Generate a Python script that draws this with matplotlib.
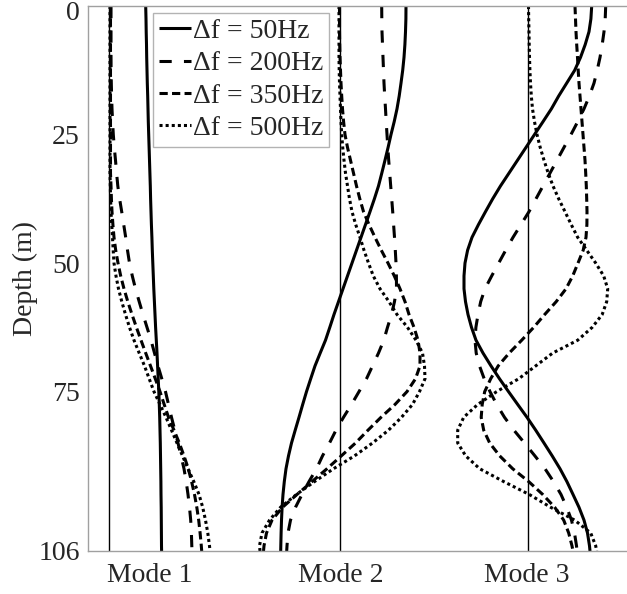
import matplotlib
matplotlib.use('Agg')
import matplotlib.pyplot as plt
import matplotlib.transforms as mtransforms

plt.rcParams['font.family'] = ['Liberation Serif', 'DejaVu Serif']

# ---------------- data ----------------
depth = [0, 2.5, 5, 7.5, 10, 12.5, 15, 17.5, 20, 22.5, 25, 27.5, 30, 32.5, 35, 37.5,
         40, 42.5, 45, 47.5, 50, 52.5, 55, 57.5, 60, 62.5, 65, 67.5, 70, 72.5, 75, 77.5,
         80, 82.5, 85, 87.5, 90, 92.5, 95, 97.5, 100, 102.5, 105, 106]

mode_labels = ['Mode 1', 'Mode 2', 'Mode 3']
series_labels = ['\u0394f = 50Hz', '\u0394f = 200Hz', '\u0394f = 350Hz', '\u0394f = 500Hz']
depth_ticks = [0, 25, 50, 75, 106]

# Mode 1 amplitudes (relative to the Mode 1 zero line)
mode1_50 = [0.367, 0.370, 0.372, 0.375, 0.377, 0.380, 0.383, 0.387, 0.390, 0.393, 0.397,
            0.401, 0.405, 0.409, 0.413, 0.416, 0.420, 0.424, 0.429, 0.433, 0.438, 0.443,
            0.448, 0.454, 0.460, 0.466, 0.473, 0.480, 0.486, 0.492, 0.498, 0.503, 0.507,
            0.510, 0.513, 0.515, 0.517, 0.519, 0.520, 0.522, 0.523, 0.524, 0.525, 0.526]
mode1_200 = [0.02, 0.02, 0.02, 0.02, 0.02, 0.021, 0.023, 0.026, 0.03, 0.036, 0.043,
             0.053, 0.065, 0.076, 0.088, 0.106, 0.127, 0.147, 0.167, 0.185, 0.205, 0.233,
             0.265, 0.302, 0.34, 0.38, 0.42, 0.455, 0.49, 0.528, 0.565, 0.595, 0.625,
             0.658, 0.69, 0.72, 0.75, 0.772, 0.79, 0.805, 0.817, 0.824, 0.828, 0.83]
mode1_350 = [0.015, 0.015, 0.015, 0.015, 0.015, 0.015, 0.015, 0.015, 0.015, 0.015, 0.015,
             0.015, 0.015, 0.015, 0.02, 0.024, 0.03, 0.039, 0.05, 0.067, 0.09, 0.117,
             0.15, 0.188, 0.23, 0.274, 0.32, 0.367, 0.415, 0.463, 0.51, 0.552, 0.595,
             0.65, 0.703, 0.75, 0.793, 0.826, 0.855, 0.878, 0.897, 0.911, 0.923, 0.927]
mode1_500 = [0.01, 0.01, 0.01, 0.01, 0.01, 0.01, 0.01, 0.01, 0.01, 0.01, 0.01,
             0.01, 0.01, 0.01, 0.013, 0.016, 0.02, 0.027, 0.035, 0.042, 0.05, 0.07,
             0.095, 0.128, 0.165, 0.205, 0.25, 0.302, 0.355, 0.402, 0.45, 0.51, 0.57,
             0.625, 0.68, 0.735, 0.79, 0.848, 0.90, 0.937, 0.965, 0.988, 1.005, 1.01]

# Mode 2 amplitudes
mode2_50 = [0.665, 0.664, 0.66, 0.654, 0.645, 0.632, 0.615, 0.597, 0.575, 0.547, 0.515,
            0.486, 0.455, 0.423, 0.39, 0.349, 0.305, 0.26, 0.215, 0.17, 0.125, 0.08,
            0.035, -0.01, -0.055, -0.097, -0.14, -0.193, -0.245, -0.288, -0.33, -0.368, -0.405,
            -0.443, -0.48, -0.51, -0.535, -0.552, -0.565, -0.574, -0.58, -0.584, -0.587, -0.588]
mode2_200 = [0.422, 0.423, 0.425, 0.43, 0.435, 0.44, 0.445, 0.452, 0.46, 0.467, 0.475,
             0.483, 0.492, 0.502, 0.512, 0.522, 0.532, 0.541, 0.55, 0.558, 0.565, 0.569,
             0.57, 0.55, 0.52, 0.48, 0.443, 0.39, 0.33, 0.27, 0.195, 0.12, 0.04,
             -0.035, -0.10, -0.17, -0.23, -0.305, -0.375, -0.44, -0.49, -0.515, -0.525, -0.528]
mode2_350 = [0.0, 0.0, 0.0, 0.002, 0.005, 0.01, 0.015, 0.022, 0.03, 0.041, 0.055,
             0.08, 0.11, 0.14, 0.17, 0.203, 0.24, 0.295, 0.355, 0.418, 0.485, 0.548,
             0.605, 0.655, 0.695, 0.745, 0.785, 0.805, 0.805, 0.76, 0.675, 0.555, 0.415,
             0.285, 0.16, 0.018, -0.125, -0.275, -0.425, -0.57, -0.675, -0.73, -0.755, -0.76]
mode2_500 = [-0.005, -0.005, -0.005, -0.005, -0.005, -0.003, 0.0, 0.005, 0.01, 0.015, 0.022,
             0.032, 0.045, 0.06, 0.08, 0.10, 0.125, 0.162, 0.205, 0.245, 0.29, 0.338,
             0.405, 0.495, 0.575, 0.68, 0.765, 0.83, 0.85, 0.855, 0.80, 0.73, 0.62,
             0.49, 0.33, 0.15, -0.06, -0.25, -0.43, -0.59, -0.70, -0.775, -0.80, -0.795]

# Mode 3 amplitudes
mode3_50 = [0.64, 0.632, 0.613, 0.575, 0.528, 0.47, 0.39, 0.31, 0.237, 0.153, 0.068,
            -0.017, -0.102, -0.187, -0.272, -0.35, -0.422, -0.492, -0.557, -0.601, -0.627, -0.637,
            -0.637, -0.622, -0.597, -0.562, -0.517, -0.447, -0.367, -0.282, -0.192, -0.10, -0.007,
            0.08, 0.163, 0.245, 0.323, 0.392, 0.453, 0.513, 0.563, 0.598, 0.618, 0.623]
mode3_200 = [0.78, 0.775, 0.763, 0.745, 0.723, 0.695, 0.663, 0.617, 0.563, 0.50, 0.433,
             0.363, 0.293, 0.223, 0.153, 0.083, 0.013, -0.067, -0.147, -0.22, -0.29, -0.36,
             -0.427, -0.47, -0.497, -0.518, -0.527, -0.515, -0.482, -0.435, -0.377, -0.31, -0.232,
             -0.138, -0.032, 0.072, 0.173, 0.258, 0.333, 0.39, 0.438, 0.468, 0.488, 0.493]
mode3_350 = [0.473, 0.478, 0.483, 0.49, 0.498, 0.505, 0.513, 0.523, 0.533, 0.543, 0.553,
             0.563, 0.573, 0.58, 0.586, 0.59, 0.593, 0.592, 0.583, 0.555, 0.503, 0.45,
             0.383, 0.285, 0.17, 0.06, -0.06, -0.185, -0.295, -0.37, -0.43, -0.455, -0.465,
             -0.44, -0.38, -0.28, -0.15, 0.01, 0.15, 0.27, 0.36, 0.41, 0.443, 0.453]
mode3_500 = [0.008, 0.01, 0.013, 0.015, 0.018, 0.022, 0.028, 0.036, 0.048, 0.068, 0.093,
             0.125, 0.163, 0.205, 0.253, 0.31, 0.373, 0.435, 0.50, 0.59, 0.68, 0.76,
             0.80, 0.79, 0.745, 0.645, 0.50, 0.25, 0.08, -0.09, -0.31, -0.50, -0.64,
             -0.70, -0.70, -0.62, -0.48, -0.24, 0.015, 0.23, 0.47, 0.63, 0.68, 0.69]

modes = [
    [mode1_50, mode1_200, mode1_350, mode1_500],
    [mode2_50, mode2_200, mode2_350, mode2_500],
    [mode3_50, mode3_200, mode3_350, mode3_500],
]

# ---------------- layout / style ----------------
zero_lines = [0.0, 2.305, 4.187]
label_pos = [0.41, 2.32, 4.18]
styles = ['-', (0, (4, 4)), (0, (2.7, 1.4)), (0, (1, 1))]
text_color = '#262626'
spine_color = '#a0a0a0'
fs = 20

fig = plt.figure(figsize=(6.27, 5.94), dpi=100)
ax = fig.add_axes([88 / 627, 43 / 594, 1 - 88 / 627, 545 / 594])

for base in zero_lines:
    ax.axvline(base, color='black', lw=1.0, zorder=1)

handles = []
for base, curves in zip(zero_lines, modes):
    for i, amp in enumerate(curves):
        h, = ax.plot([base + a for a in amp], depth, color='black', lw=2.2,
                     linestyle=styles[i], zorder=2, solid_capstyle='butt',
                     dash_capstyle='butt', solid_joinstyle='round')
        if base == zero_lines[0]:
            h.set_label(series_labels[i])
            handles.append(h)

ax.set_xlim(-0.21, 5.18)
ax.set_ylim(106, 0)
ax.set_yticks(depth_ticks)
ax.set_yticklabels([str(t) for t in depth_ticks])
ax.set_xticks(label_pos)
ax.set_xticklabels(mode_labels)
ax.tick_params(axis='both', length=0, labelsize=fs, labelcolor=text_color)
ax.tick_params(axis='y', pad=6)
ax.tick_params(axis='x', pad=9)
ax.set_ylabel('Depth (m)', fontsize=fs, color=text_color, labelpad=0)

# keep the top "0" label inside the picture
fig.canvas.draw()
top_lab = ax.get_yticklabels()[0]
top_lab.set_transform(top_lab.get_transform() +
                      mtransforms.ScaledTranslation(0, -3 / 72, fig.dpi_scale_trans))

for side in ['left', 'bottom', 'top']:
    ax.spines[side].set_color(spine_color)
    ax.spines[side].set_linewidth(1.0)
ax.spines['right'].set_visible(False)

leg = ax.legend(handles=handles, loc='upper left',
                bbox_to_anchor=((153 - 88) / 539, (551 - 13) / 545),
                borderaxespad=0, fontsize=fs, frameon=True, fancybox=False,
                handlelength=1.15, handletextpad=0.08, labelspacing=0.25,
                borderpad=0.2)
leg.get_frame().set_edgecolor(spine_color)
leg.get_frame().set_linewidth(1.0)
for t in leg.get_texts():
    t.set_color(text_color)

fig.savefig('out.png', dpi=100)
